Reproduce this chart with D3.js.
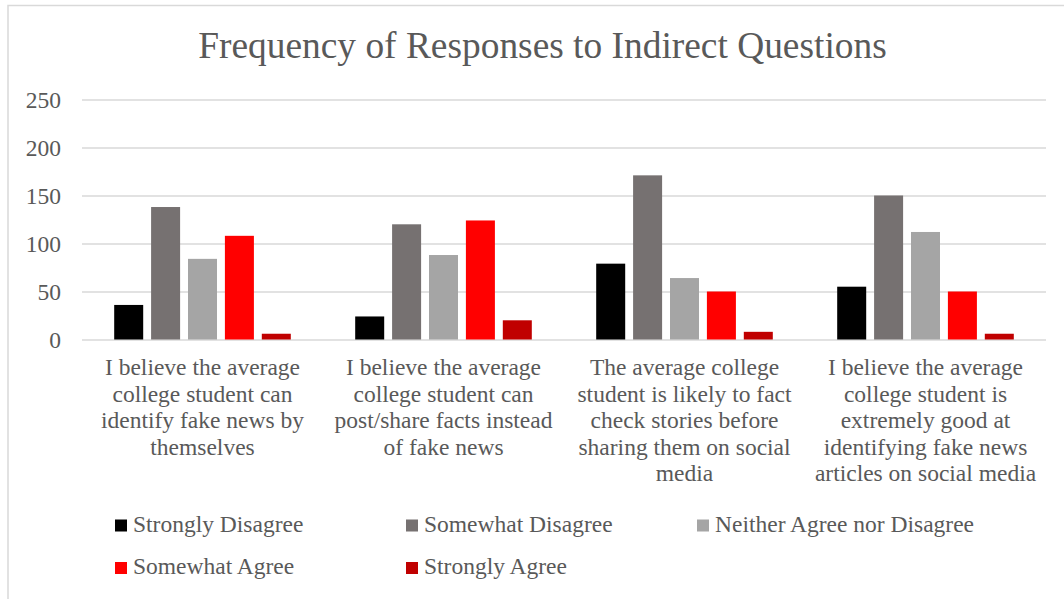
<!DOCTYPE html>
<html>
<head>
<meta charset="utf-8">
<script src="https://cdn.jsdelivr.net/npm/d3@7"></script>
<style>
  html, body { margin: 0; padding: 0; background: #ffffff; }
  svg { display: block; }
</style>
</head>
<body>
<svg id="chart" width="1064" height="599"></svg>
<script>
// Survey questions (line breaks mark where each axis label wraps)
const categories = [
  "I believe the average\ncollege student can\nidentify fake news by\nthemselves",
  "I believe the average\ncollege student can\npost/share facts instead\nof fake news",
  "The average college\nstudent is likely to fact\ncheck stories before\nsharing them on social\nmedia",
  "I believe the average\ncollege student is\nextremely good at\nidentifying fake news\narticles on social media"
];

const seriesNames = [
  "Strongly Disagree",
  "Somewhat Disagree",
  "Neither Agree nor Disagree",
  "Somewhat Agree",
  "Strongly Agree"
];

// Response counts per question, one array per answer option
const stronglyDisagree = [36, 24, 79, 55];
const somewhatDisagree = [138, 120, 171, 150];
const neitherAgreeNorDisagree = [84, 88, 64, 112];
const somewhatAgree = [108, 124, 50, 50];
const stronglyAgree = [6, 20, 8, 6];

const yTicks = [0, 50, 100, 150, 200, 250];

const seriesColors = ["#000000", "#767171", "#a5a5a5", "#ff0000", "#c00000"];

const seriesValues = [stronglyDisagree, somewhatDisagree, neitherAgreeNorDisagree, somewhatAgree, stronglyAgree];

const FONT = "Liberation Serif";
const TEXT_COLOR = "#595959";

const svg = d3.select("#chart");

// Outer chart frame
svg.append("rect")
  .attr("x", 8).attr("y", 5.5)
  .attr("width", 1100).attr("height", 700)
  .attr("fill", "none")
  .attr("stroke", "#d9d9d9")
  .attr("stroke-width", 1.5);

// Title
svg.append("text")
  .attr("x", 542.5).attr("y", 58)
  .attr("text-anchor", "middle")
  .attr("font-family", FONT)
  .attr("font-size", 37.4)
  .attr("fill", TEXT_COLOR)
  .text("Frequency of Responses to Indirect Questions");

const plot = { left: 82, right: 1046, top: 99.5, bottom: 339.5 };

const x0 = d3.scaleBand()
  .domain(d3.range(categories.length))
  .range([plot.left, plot.right])
  .padding(0);

const x1 = d3.scaleBand()
  .domain(d3.range(seriesNames.length))
  .range([0, x0.bandwidth()])
  .paddingInner(0.214)
  .paddingOuter(0.8725);

const y = d3.scaleLinear()
  .domain([0, 250])
  .range([plot.bottom, plot.top]);

// Horizontal gridlines and value labels
const yAxis = svg.append("g")
  .attr("transform", `translate(${plot.left},0)`)
  .call(d3.axisLeft(y)
    .tickValues(yTicks)
    .tickSize(-(plot.right - plot.left))
    .tickPadding(21)
    .tickFormat(d3.format("d")));
yAxis.attr("font-family", FONT).attr("font-size", 23.5);
yAxis.select(".domain").remove();
yAxis.selectAll(".tick line")
  .attr("stroke", "#d9d9d9")
  .attr("stroke-width", 1.6);
yAxis.selectAll(".tick text")
  .attr("fill", TEXT_COLOR);

// Bars
const groups = svg.append("g")
  .selectAll("g")
  .data(categories.map((c, i) => i))
  .join("g")
  .attr("transform", i => `translate(${x0(i)},0)`);

groups.selectAll("rect")
  .data(i => seriesValues.map((vals, s) => ({ s, v: vals[i] })))
  .join("rect")
  .attr("x", d => x1(d.s))
  .attr("width", x1.bandwidth())
  .attr("y", d => y(d.v))
  .attr("height", d => y(0) - y(d.v))
  .attr("fill", d => seriesColors[d.s]);

// Category axis with wrapped labels
const xAxis = svg.append("g")
  .attr("transform", `translate(0,${plot.bottom})`)
  .call(d3.axisBottom(x0).tickSize(0).tickFormat(""));
xAxis.attr("font-family", FONT).attr("font-size", 23.5);
xAxis.select(".domain").remove();
xAxis.selectAll(".tick text").remove();
xAxis.selectAll(".tick").each(function (i) {
  const t = d3.select(this).append("text")
    .attr("text-anchor", "middle")
    .attr("fill", TEXT_COLOR);
  categories[i].split("\n").forEach((line, k) => {
    t.append("tspan")
      .attr("x", 0)
      .attr("y", 35.5 + k * 26.6)
      .text(line);
  });
});

// Legend
const legendCols = [115, 406, 697];
const legendRows = [519.5, 562];
const legend = svg.append("g")
  .attr("font-family", FONT)
  .attr("font-size", 23.5)
  .selectAll("g")
  .data(seriesNames)
  .join("g")
  .attr("transform", (d, i) => `translate(${legendCols[i % 3]},${legendRows[Math.floor(i / 3)]})`);
legend.append("rect")
  .attr("width", 12).attr("height", 12)
  .attr("fill", (d, i) => seriesColors[i]);
legend.append("text")
  .attr("x", 18).attr("y", 12.3)
  .attr("fill", TEXT_COLOR)
  .text(d => d);
</script>
</body>
</html>
